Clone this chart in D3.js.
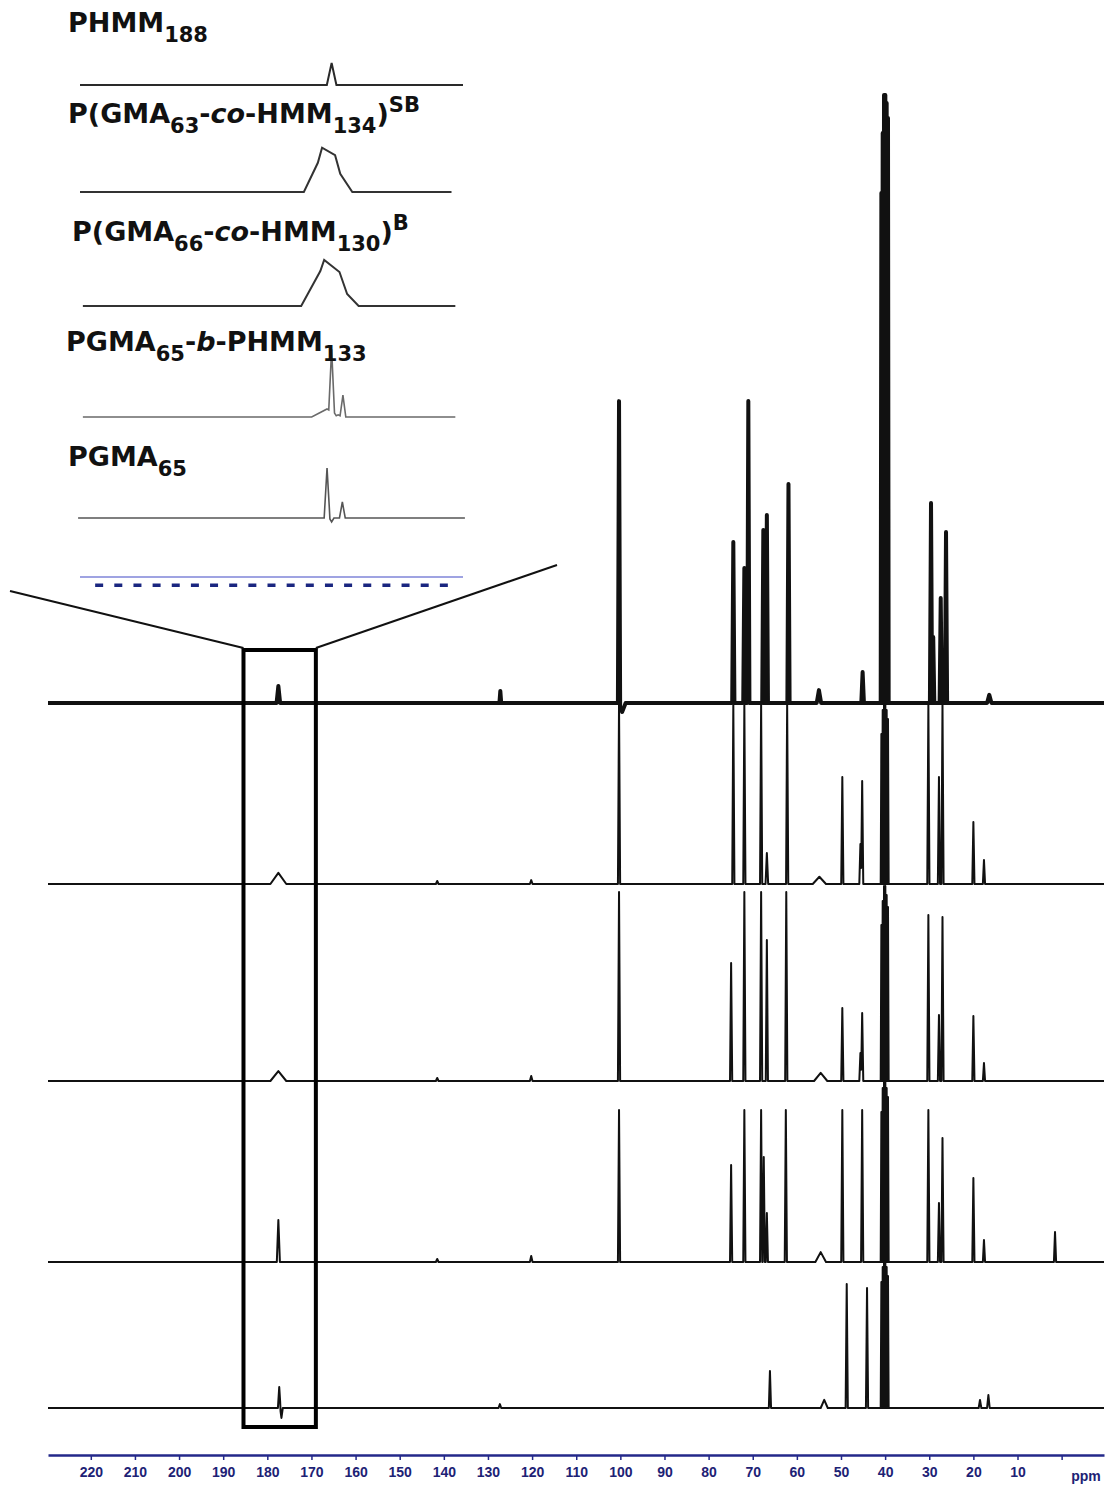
<!DOCTYPE html>
<html>
<head>
<meta charset="utf-8">
<script src="https://cdn.jsdelivr.net/npm/d3@7"></script>
<style>
  body { margin: 0; background: #fff; }
  svg { display: block; }
</style>
</head>
<body>
<svg id="chart"></svg>
<script>
const W = 1106, H = 1486;

// ---- main 13C spectra: [ppm, intensity, half width (ppm)] ----
const peaksPHMM = [
    [177.5, 5.7, 0.4], [127.2, 4, 0.2], [100.3, 101, 0.25], [99.6, -3, 0.8],
    [74.4, 53.7, 0.25], [71.9, 45, 0.25], [71.0, 100.7, 0.25], [67.6, 57.7, 0.25],
    [66.8, 62.7, 0.25], [61.9, 73, 0.25], [55.0, 4.3, 0.5], [45.1, 10.3, 0.3],
    [40.85, 170, 0.15], [40.55, 190, 0.15], [40.25, 202.7, 0.15], [39.95, 202.7, 0.15],
    [39.65, 200, 0.15], [39.35, 195, 0.15],
    [29.6, 66.7, 0.25], [29.1, 22, 0.25], [27.4, 35, 0.25], [26.2, 57, 0.25],
    [16.4, 2.7, 0.5]
];
const peaksSB = [
    [177.5, 3.7, 1.8], [141.5, 1, 0.3], [120.2, 1.3, 0.3], [100.3, 59.7, 0.25],
    [74.4, 59.7, 0.25], [71.9, 59.7, 0.25], [68.1, 59.7, 0.25], [66.8, 10.3, 0.3],
    [62.2, 59.7, 0.25], [54.9, 2.4, 1.5], [49.7, 35.7, 0.25], [45.6, 13.3, 0.25],
    [45.2, 34.3, 0.25],
    [40.85, 50, 0.15], [40.55, 58, 0.15], [40.25, 60, 0.15], [39.95, 60, 0.15],
    [39.65, 58, 0.15], [39.35, 55, 0.15],
    [30.2, 59.7, 0.25], [27.8, 35.7, 0.25], [27.0, 59.7, 0.25],
    [20.0, 20.7, 0.25], [17.6, 8, 0.25]
];
const peaksB = [
    [177.5, 3.3, 1.8], [141.5, 1, 0.3], [120.2, 1.7, 0.3], [100.3, 63, 0.25],
    [74.9, 39.3, 0.25], [71.9, 63, 0.25], [68.1, 63, 0.25], [66.8, 47, 0.25],
    [62.4, 63, 0.25], [54.6, 2.7, 1.5], [49.7, 24.3, 0.25], [45.6, 9.3, 0.25],
    [45.2, 22.7, 0.25],
    [40.85, 52, 0.15], [40.55, 60, 0.15], [40.25, 65, 0.15], [39.95, 65, 0.15],
    [39.65, 62, 0.15], [39.35, 58, 0.15],
    [30.2, 55.3, 0.25], [27.8, 22, 0.25], [27.0, 54.7, 0.25],
    [20.0, 21.7, 0.25], [17.6, 6, 0.25]
];
const peaksBlock = [
    [177.5, 14, 0.35], [141.5, 1, 0.3], [120.2, 2, 0.3], [100.3, 50.7, 0.25],
    [74.9, 32.3, 0.25], [71.9, 50.7, 0.25], [68.1, 50.7, 0.25], [67.5, 35, 0.25],
    [66.8, 16.3, 0.25], [62.5, 50.7, 0.25], [54.6, 3.3, 1.2], [49.7, 50.7, 0.25],
    [45.2, 50.7, 0.25],
    [40.85, 50, 0.15], [40.55, 58, 0.15], [40.25, 60, 0.15], [39.95, 60, 0.15],
    [39.65, 58, 0.15], [39.35, 55, 0.15],
    [30.2, 50.7, 0.25], [27.8, 19.7, 0.25], [27.0, 41.3, 0.25],
    [20.0, 28, 0.25], [17.6, 7.3, 0.25], [1.5, 10, 0.25]
];
const peaksPGMA = [
    [177.3, 7, 0.3], [176.8, -3.3, 0.3], [127.3, 1.3, 0.3], [66.1, 12.3, 0.25],
    [53.8, 2.7, 0.8], [48.7, 41.3, 0.25], [44.1, 40, 0.25],
    [40.85, 42, 0.15], [40.55, 47, 0.15], [40.25, 49, 0.15], [39.95, 49, 0.15],
    [39.65, 47, 0.15], [39.35, 44, 0.15],
    [18.5, 2.7, 0.3], [16.6, 4.3, 0.3]
];
const mainSpectra = [peaksPHMM, peaksSB, peaksB, peaksBlock, peaksPGMA];
const ppmTicks = [220, 210, 200, 190, 180, 170, 160, 150, 140, 130, 120, 110, 100,
                  90, 80, 70, 60, 50, 40, 30, 20, 10, 0];

// ---- inset (carbonyl region) ----
const insetPHMM = [[176.86, 22, 0.25]];
const insetSB = [[177.36, 38, 0.95], [176.68, 26, 0.9]];
const insetB = [[177.25, 42, 1.2], [176.45, 20, 1.0]];
const insetBlock = [[177.1, 8, 0.8], [176.86, 62, 0.15], [176.62, -2, 0.1], [176.27, 22, 0.15]];
const insetPGMA = [[177.1, 50, 0.15], [176.86, -4, 0.12], [176.3, 16, 0.15]];
const insetSpectra = [insetPHMM, insetSB, insetB, insetBlock, insetPGMA];
const insetRanges = [[190, 170], [190, 170.6], [189.85, 170.4], [189.85, 170.4], [190.1, 169.9]];
const insetTicks = d3.range(189, 170, -1);

const insetLabels = [
    [{t: "PHMM"}, {t: "188", s: "sub"}],
    [{t: "P(GMA"}, {t: "63", s: "sub"}, {t: "-"}, {t: "co", i: true}, {t: "-HMM"}, {t: "134", s: "sub"}, {t: ")"}, {t: "SB", s: "sup"}],
    [{t: "P(GMA"}, {t: "66", s: "sub"}, {t: "-"}, {t: "co", i: true}, {t: "-HMM"}, {t: "130", s: "sub"}, {t: ")"}, {t: "B", s: "sup"}],
    [{t: "PGMA"}, {t: "65", s: "sub"}, {t: "-"}, {t: "b", i: true}, {t: "-PHMM"}, {t: "133", s: "sub"}],
    [{t: "PGMA"}, {t: "65", s: "sub"}]
];

const svg = d3.select("#chart").attr("width", W).attr("height", H);

// sum of triangular line shapes, evaluated at every corner of the shapes
function spectrum(peaks, from, to) {
    const xs = [from, to];
    peaks.forEach(([p, h, w]) => xs.push(p - w, p, p + w));
    const keep = Array.from(new Set(xs)).filter(x => x <= from && x >= to).sort((a, b) => b - a);
    return keep.map(x => [x, d3.sum(peaks, ([p, h, w]) => Math.max(0, 1 - Math.abs(x - p) / w) * h)]);
}

/* ---------------- main spectra ---------------- */
const x = d3.scaleLinear().domain([229.7, -9.6]).range([48, 1104]);
const y = d3.scaleLinear().domain([0, 200]).range([0, -600]);
const baselines = [703, 884, 1081, 1262, 1408];
const line = d3.line().x(d => x(d[0])).y(d => y(d[1]));

mainSpectra.forEach((peaks, i) => {
    svg.append("g")
        .attr("transform", `translate(0,${baselines[i]})`)
        .append("path")
        .attr("d", line(spectrum(peaks, 229.7, -9.6)))
        .attr("fill", "none")
        .attr("stroke", "#111")
        .attr("stroke-width", i === 0 ? 4 : 2)
        .attr("stroke-linejoin", "round");
});

// zoom box and guide lines
const boxL = x(185.4), boxR = x(169), boxT = 650, boxB = 1427;
svg.append("rect")
    .attr("x", boxL).attr("y", boxT)
    .attr("width", boxR - boxL).attr("height", boxB - boxT)
    .attr("fill", "none").attr("stroke", "#000").attr("stroke-width", 4);
svg.append("line").attr("x1", 10).attr("y1", 591).attr("x2", boxL).attr("y2", boxT - 2)
    .attr("stroke", "#111").attr("stroke-width", 2);
svg.append("line").attr("x1", boxR).attr("y1", boxT - 2).attr("x2", 557).attr("y2", 565)
    .attr("stroke", "#111").attr("stroke-width", 2);

// ppm axis
const axis = svg.append("g")
    .attr("transform", "translate(0,1455)")
    .call(d3.axisBottom(x).tickValues(ppmTicks).tickSize(5).tickSizeOuter(0).tickPadding(7)
        .tickFormat(d => d === 0 ? "" : d));
axis.select(".domain").attr("stroke", "#23288a").attr("stroke-width", 2.5);
axis.selectAll(".tick line").attr("stroke", "#23288a").attr("stroke-width", 1.5);
axis.selectAll(".tick text")
    .attr("fill", "#1d2275")
    .style("font", "bold 14px 'Liberation Sans', Arial, sans-serif");
svg.append("text")
    .attr("x", 1086).attr("y", 1481)
    .attr("text-anchor", "middle")
    .attr("fill", "#1d2275")
    .style("font", "bold 14px 'Liberation Sans', Arial, sans-serif")
    .text("ppm");

/* ---------------- inset ---------------- */
const ix = d3.scaleLinear().domain([190, 170]).range([80, 463]);
const iy = d3.scaleLinear().domain([0, 100]).range([0, -100]);
const insetBase = [85, 192, 306, 417, 518];
const insetColor = ["#2a2a2a", "#333", "#333", "#6a6a6a", "#555"];
const iline = d3.line().x(d => ix(d[0])).y(d => iy(d[1]));

insetSpectra.forEach((peaks, i) => {
    svg.append("g")
        .attr("transform", `translate(0,${insetBase[i]})`)
        .append("path")
        .attr("d", iline(spectrum(peaks, insetRanges[i][0], insetRanges[i][1])))
        .attr("fill", "none")
        .attr("stroke", insetColor[i])
        .attr("stroke-width", i < 3 ? 2 : 1.6);
});

// inset axis
svg.append("line")
    .attr("x1", ix(190)).attr("x2", ix(170)).attr("y1", 577).attr("y2", 577)
    .attr("stroke", "#7f84d8").attr("stroke-width", 1.5);
svg.selectAll(".idash")
    .data(insetTicks)
    .enter()
    .append("rect")
    .attr("class", "idash")
    .attr("x", d => ix(d) - 4).attr("y", 583.5)
    .attr("width", 8).attr("height", 3.5)
    .attr("fill", "#1a2680");

// inset labels
const labelPos = [[68, 32], [68, 123], [72, 241], [66, 351], [68, 466]];
insetLabels.forEach((parts, i) => {
    const t = svg.append("text")
        .attr("x", labelPos[i][0]).attr("y", labelPos[i][1])
        .attr("fill", "#111")
        .style("font-family", "'DejaVu Sans', sans-serif")
        .style("font-weight", "bold")
        .style("font-size", "27px");
    let shift = 0;
    parts.forEach(p => {
        const target = p.s === "sub" ? 10 : p.s === "sup" ? -11 : 0;
        t.append("tspan")
            .attr("dy", target - shift)
            .style("font-size", p.s ? "21px" : "27px")
            .style("font-style", p.i ? "italic" : "normal")
            .text(p.t);
        shift = target;
    });
});
</script>
</body>
</html>
